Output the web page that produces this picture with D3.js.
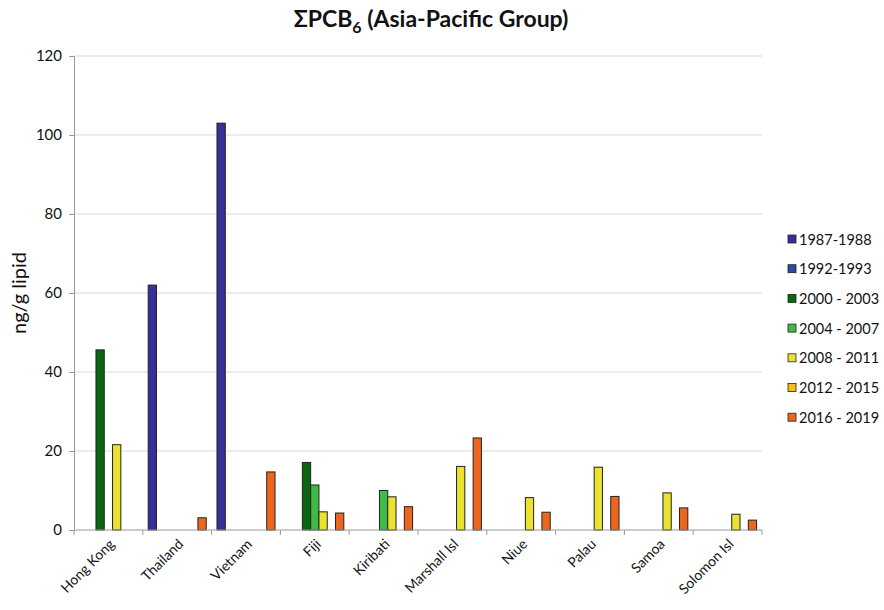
<!DOCTYPE html>
<html>
<head>
<meta charset="utf-8">
<script src="https://cdn.jsdelivr.net/npm/d3@7"></script>
<style>
	body { margin: 0; background: #fff; }
	text { font-family: Lato, "Open Sans", sans-serif; fill: #111; }
</style>
</head>
<body>
<div id="root"></div>
<script>

const countries = ["Hong Kong", "Thailand", "Vietnam", "Fiji", "Kiribati", "Marshall Isl", "Niue", "Palau", "Samoa", "Solomon Isl"];
const periods = ["1987-1988", "1992-1993", "2000 - 2003", "2004 - 2007", "2008 - 2011", "2012 - 2015", "2016 - 2019"];
const periodColors = ["#363197", "#2f4aa6", "#0b670f", "#3dbb44", "#ebe22f", "#f7bd1c", "#ee661e"];

// values per period, one entry per country (null = no sample)
const v1987 = [null, 62, 103, null, null, null, null, null, null, null];
const v1992 = [null, null, null, null, null, null, null, null, null, null];
const v2000 = [45.6, null, null, 17.1, null, null, null, null, null, null];
const v2004 = [null, null, null, 11.4, 10.0, null, null, null, null, null];
const v2008 = [21.6, null, null, 4.6, 8.4, 16.1, 8.2, 15.9, 9.4, 4.0];
const v2012 = [null, null, null, null, null, null, null, null, null, null];
const v2016 = [null, 3.1, 14.7, 4.3, 5.9, 23.3, 4.5, 8.5, 5.6, 2.5];

const yTicks = [0, 20, 40, 60, 80, 100, 120];

function draw() {
	const width = 884, height = 610;
	const margin = {top: 56, right: 122, bottom: 80, left: 74};

	const series = [v1987, v1992, v2000, v2004, v2008, v2012, v2016];

	let svg = d3.select("#root")
		.append("svg")
		.attr("width", width)
		.attr("height", height);

	const x = d3.scaleBand()
		.domain(countries)
		.range([margin.left, width - margin.right])
		.padding(0);

	const inner = d3.scaleBand()
		.domain(periods)
		.range([0, x.bandwidth()])
		.paddingInner(0)
		.paddingOuter(0.65);

	const y = d3.scaleLinear()
		.domain([0, 120])
		.range([height - margin.bottom, margin.top]);

	// gridlines
	svg.append("g")
		.selectAll("line")
		.data(yTicks.slice(1))
		.enter()
		.append("line")
		.attr("x1", margin.left)
		.attr("x2", width - margin.right)
		.attr("y1", d => y(d))
		.attr("y2", d => y(d))
		.attr("stroke", "#d9d9d9")
		.attr("stroke-width", 1);

	// bars
	let rows = [];
	series.forEach((vals, si) => {
		vals.forEach((v, ci) => {
			if (v !== null) rows.push({country: countries[ci], period: periods[si], color: periodColors[si], value: v});
		});
	});

	svg.append("g")
		.selectAll("rect")
		.data(rows)
		.enter()
		.append("rect")
		.attr("x", d => x(d.country) + inner(d.period))
		.attr("width", inner.bandwidth())
		.attr("y", d => y(d.value))
		.attr("height", d => y(0) - y(d.value))
		.attr("fill", d => d.color)
		.attr("stroke", "#222")
		.attr("stroke-width", 1);

	// y axis
	const yAxis = svg.append("g")
		.attr("transform", `translate(${margin.left},0)`)
		.call(d3.axisLeft(y).tickValues(yTicks).tickSize(5).tickPadding(7));
	yAxis.select(".domain").attr("stroke", "#9a9a9a");
	yAxis.selectAll(".tick line").attr("stroke", "#9a9a9a");
	yAxis.selectAll(".tick text")
		.style("font-family", "Lato, 'Open Sans', sans-serif")
		.style("font-size", "15px")
		.attr("fill", "#111");

	// x axis with ticks at band edges
	const xAxis = svg.append("g")
		.attr("transform", `translate(0,${y(0)})`);
	xAxis.append("line")
		.attr("x1", margin.left)
		.attr("x2", width - margin.right)
		.attr("stroke", "#9a9a9a");
	xAxis.selectAll(".edge")
		.data(countries.concat(["end"]))
		.enter()
		.append("line")
		.attr("class", "edge")
		.attr("x1", (d, i) => margin.left + i * x.bandwidth())
		.attr("x2", (d, i) => margin.left + i * x.bandwidth())
		.attr("y1", 0)
		.attr("y2", 5)
		.attr("stroke", "#9a9a9a");
	xAxis.selectAll(".lbl")
		.data(countries)
		.enter()
		.append("text")
		.attr("class", "lbl")
		.attr("text-anchor", "end")
		.attr("transform", d => `translate(${x(d) + x.bandwidth() / 2 + 7},${15}) rotate(-45)`)
		.style("font-size", "14px")
		.text(d => d);

	// y label
	svg.append("text")
		.attr("transform", `translate(26,${(y(0) + y(120)) / 2}) rotate(-90)`)
		.attr("text-anchor", "middle")
		.style("font-size", "20px")
		.text("ng/g lipid");

	// title
	const title = svg.append("text")
		.attr("x", 431)
		.attr("y", 27)
		.attr("text-anchor", "middle")
		.style("font-size", "23px")
		.style("font-weight", "bold");
	title.append("tspan").text("ΣPCB");
	title.append("tspan").attr("dy", 6).style("font-size", "16px").text("6");
	title.append("tspan").attr("dy", -6).text(" (Asia-Pacific Group)");

	// legend
	const legend = svg.append("g").attr("class", "legend")
		.attr("transform", "translate(788,235)");
	let item = legend.selectAll(".item")
		.data(periods)
		.enter()
		.append("g")
		.attr("transform", (d, i) => `translate(0,${i * 29.7})`);
	item.append("rect")
		.attr("width", 8)
		.attr("height", 8)
		.attr("fill", (d, i) => periodColors[i])
		.attr("stroke", "#222")
		.attr("stroke-width", 0.8);
	item.append("text")
		.attr("x", 11)
		.attr("y", 9.5)
		.style("font-size", "14.5px")
		.text(d => d);
}

draw();
</script>
</body>
</html>
